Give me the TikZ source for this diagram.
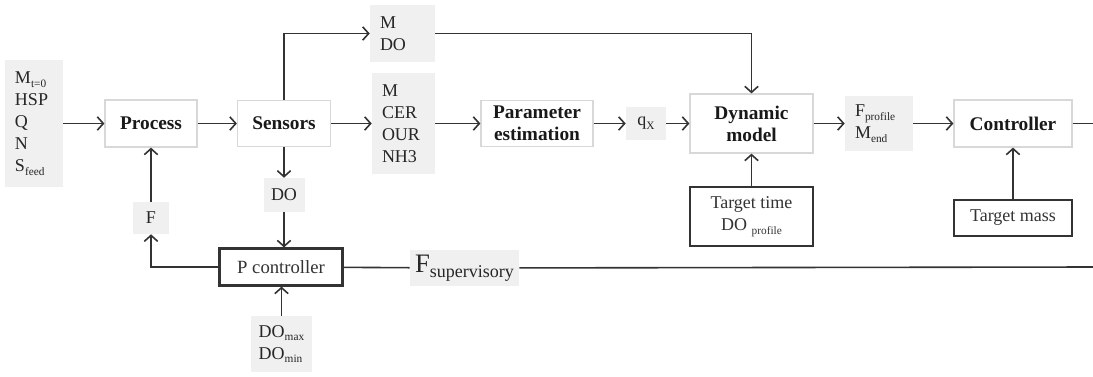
\documentclass[tikz,border=0pt]{standalone}
\usepackage{fontspec}
\setmainfont{Liberation Serif}
\usetikzlibrary{arrows.meta}
\newcommand{\lsub}[1]{\raisebox{-0.45ex}{\fontsize{8.5}{8.5}\selectfont #1}}
\definecolor{linegray}{HTML}{333333}
\definecolor{boxfill}{HTML}{F0F0F0}
\definecolor{edgegray}{HTML}{D8D8D8}
\begin{document}
\begin{tikzpicture}[x=0.75pt,y=-0.75pt,
  lbl/.style={fill=boxfill,text=black!85,align=left,inner xsep=7.5pt,inner ysep=0pt,font=\fontsize{13.5}{16.5}\selectfont},
  blk/.style={draw=edgegray,line width=0.9pt,fill=white,align=center,inner sep=0pt,text=black!90,font=\fontsize{14.5}{16.5}\selectfont\bfseries},
  dark/.style={draw=linegray,line width=1.6pt,fill=white,align=center,inner sep=0pt,text=black!80,font=\fontsize{13.5}{16.5}\selectfont},
  link/.style={draw=linegray,line width=1.2pt},
  arr/.style={link,-{Straight Barb[length=4.5pt,width=10pt,line width=1.2pt]}}]
    \useasboundingbox (0,0) rectangle (1093,376);
    \node[lbl,text width=28.5pt,minimum height=95.25pt] (inp) at (34,123.5) {M\lsub{t=0}\\HSP\\Q\\N\\S\lsub{feed}};
    \node[blk,minimum width=69pt,minimum height=35.25pt] (proc) at (151,123.5) {Process};
    \node[blk,minimum width=69.75pt,minimum height=34.5pt] (sens) at (284,123.5) {Sensors};
    \node[lbl,text width=33.75pt,minimum height=42.75pt] (mdo) at (402.5,33.5) {M\\DO};
    \node[lbl,text width=32.25pt,minimum height=75.75pt] (mcer) at (403.5,123.5) {M\\CER\\OUR\\NH3};
    \node[blk,minimum width=84pt,minimum height=34.5pt] (pest) at (537,123.5) {Parameter\\estimation};
    \node[lbl,align=center,inner sep=0pt,minimum width=30pt,minimum height=24.75pt] (qx) at (646,123.5) {q\lsub{X}};
    \node[blk,minimum width=92.25pt,minimum height=44.25pt] (dyn) at (751.5,123.5) {Dynamic\\model};
    \node[dark,minimum width=92.25pt,minimum height=44.25pt] (ttime) at (751.5,216.5) {Target time\\DO \lsub{profile}};
    \node[lbl,text width=36pt,minimum height=41.25pt] (fprof) at (879,123.5) {F\lsub{profile}\\M\lsub{end}};
    \node[blk,minimum width=88.5pt,minimum height=35.25pt] (ctrl) at (1013,123.5) {Controller};
    \node[dark,minimum width=88.5pt,minimum height=27pt] (tmass) at (1013,218) {Target mass};
    \node[lbl,align=center,inner sep=0pt,minimum width=30.75pt,minimum height=25.5pt] (DO) at (284,195) {DO};
    \node[lbl,align=center,inner sep=0pt,minimum width=27pt,minimum height=24pt] (F) at (151,218) {F};
    \node[dark,minimum width=92.25pt,minimum height=27.75pt,font=\fontsize{14}{16.5}\selectfont] (pctl) at (281,267) {P controller};
    \node[lbl,inner sep=0pt,minimum width=45.75pt,minimum height=42pt] (DOm) at (281.5,344) {DO\lsub{max}\\DO\lsub{min}};
    \node[lbl,align=left,inner xsep=1pt,inner ysep=0pt,minimum width=81.75pt,minimum height=27pt] (fsup) at (464.5,268) {{\fontsize{20}{20}\selectfont F}\raisebox{-3.5pt}{supervisory}};
    \coordinate (rgtA) at (1093,123.5);
    \coordinate (rgtB) at (1093,267);
    \draw[arr] (inp) -- (proc);
    \draw[arr] (proc) -- (sens);
    \draw[arr] (sens) -- (mcer);
    \draw[arr] (mcer) -- (pest);
    \draw[arr] (pest) -- (qx);
    \draw[arr] (qx) -- (dyn);
    \draw[arr] (dyn) -- (fprof);
    \draw[arr] (fprof) -- (ctrl);
    \draw[arr] (sens.north) |- (mdo.west);
    \draw[arr] (mdo.east) -| (dyn.north);
    \draw[arr] (ttime) -- (dyn);
    \draw[arr] (tmass) -- (ctrl);
    \draw[link] (ctrl) -- (rgtA);
    \draw[arr] (sens) -- (DO);
    \draw[arr] (DO) -- (DO |- pctl.north);
    \draw[arr] (DOm) -- (DOm |- pctl.south);
    \draw[arr] (pctl.west) -| (F.south);
    \draw[arr] (F) -- (proc);
    \draw[link] (pctl) -- (fsup);
    \draw[link] (fsup) -- (rgtB);
\end{tikzpicture}
\end{document}
